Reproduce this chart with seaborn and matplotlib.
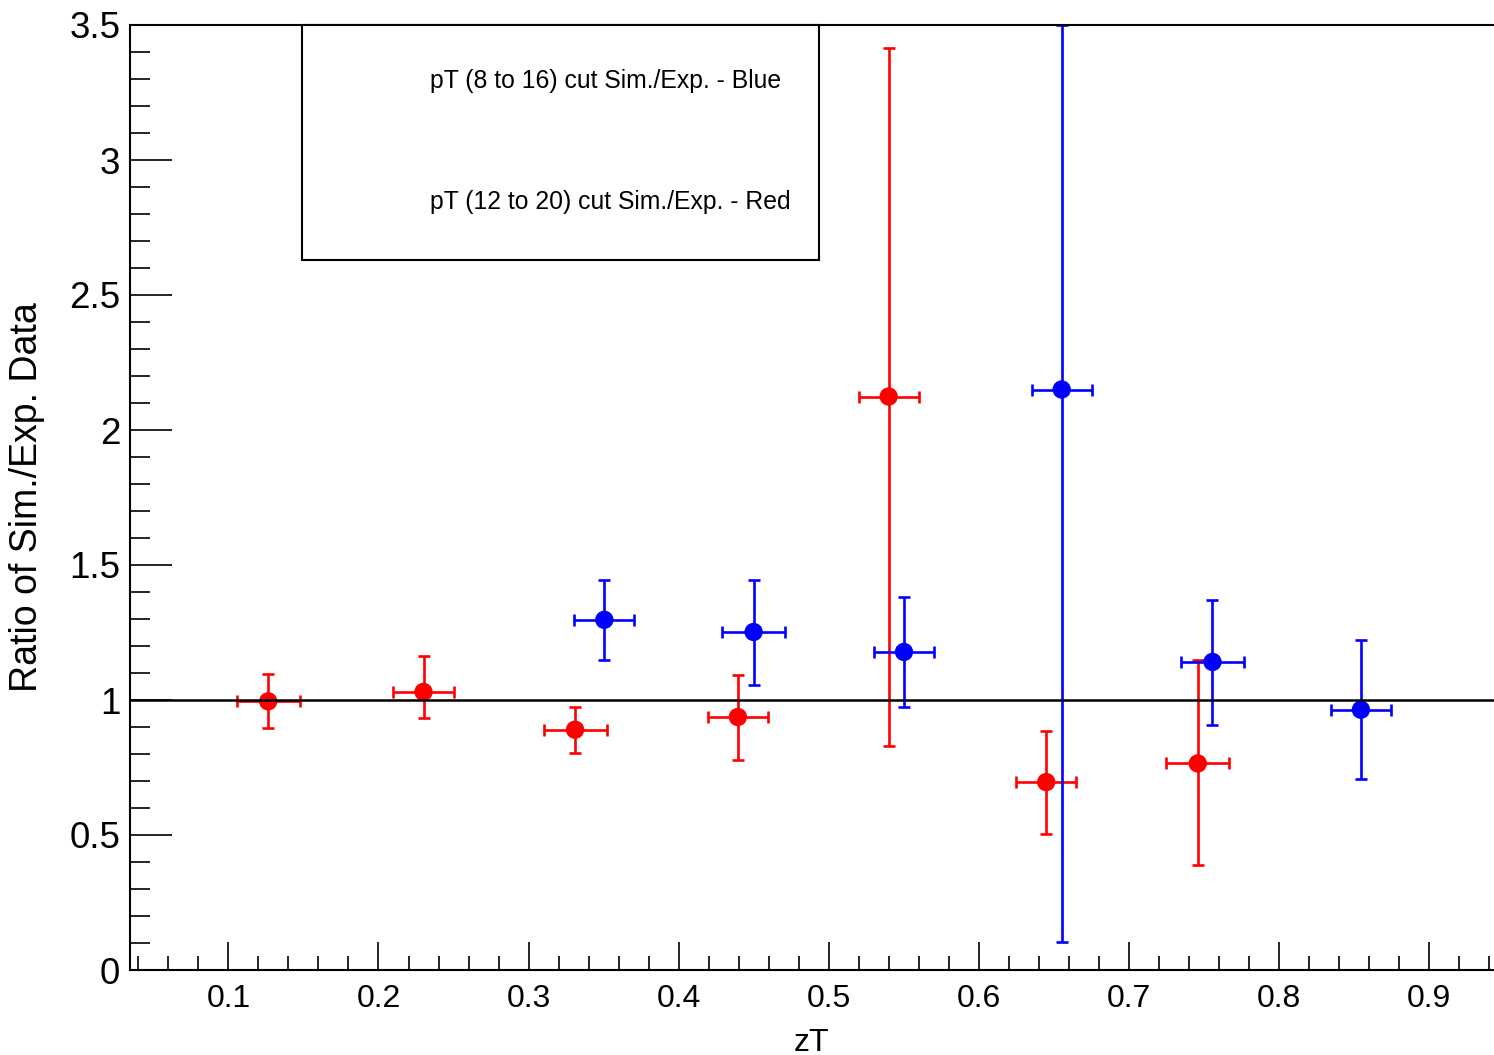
import matplotlib
matplotlib.use("Agg")
import matplotlib.pyplot as plt
import seaborn as sns
import pandas as pd
from matplotlib.patches import Rectangle
from matplotlib.ticker import MultipleLocator

# ---- data ----
red_x = [0.1265, 0.230, 0.331, 0.4395, 0.540, 0.645, 0.746]
red_y = [0.995, 1.030, 0.890, 0.937, 2.124, 0.696, 0.765]
red_lo = [0.097, 0.095, 0.085, 0.160, 1.295, 0.193, 0.377]
red_hi = [0.100, 0.132, 0.084, 0.157, 1.290, 0.188, 0.384]
red_xerr = [0.021, 0.020, 0.021, 0.020, 0.020, 0.020, 0.021]

blue_x = [0.3505, 0.4500, 0.5502, 0.6553, 0.7558, 0.8547]
blue_y = [1.297, 1.252, 1.178, 2.150, 1.141, 0.964]
blue_lo = [0.148, 0.195, 0.204, 2.047, 0.232, 0.258]
blue_hi = [0.148, 0.193, 0.203, 1.350, 0.230, 0.259]
blue_xerr = [0.020, 0.021, 0.020, 0.020, 0.021, 0.020]

legend_texts = ["pT (8 to 16) cut Sim./Exp. - Blue",
                "pT (12 to 20) cut Sim./Exp. - Red"]
x_label = "zT"
y_label = "Ratio of Sim./Exp. Data"

sns.set_theme(style="ticks")
plt.rcParams['font.family'] = ['Liberation Sans', 'DejaVu Sans']

fig = plt.figure(figsize=(14.94, 10.55), dpi=100)
ax = fig.add_axes([130 / 1494, 1 - 970 / 1055, (1494 - 130) / 1494, (970 - 25) / 1055])

df = pd.concat([
    pd.DataFrame({"x": red_x, "y": red_y, "series": "red"}),
    pd.DataFrame({"x": blue_x, "y": blue_y, "series": "blue"}),
])

for xs, ys, lo, hi, xe, col in [(red_x, red_y, red_lo, red_hi, red_xerr, "#ff0000"),
                                (blue_x, blue_y, blue_lo, blue_hi, blue_xerr, "#0000ff")]:
    ax.errorbar(xs, ys, yerr=[lo, hi], xerr=xe, fmt="none", ecolor=col,
                elinewidth=1.9, capsize=4.5, capthick=1.9, zorder=2)

sns.scatterplot(data=df, x="x", y="y", hue="series",
                palette={"red": "#ff0000", "blue": "#0000ff"},
                marker="o", s=175, linewidth=0, legend=False, ax=ax, zorder=3)

ax.axhline(1.0, color="black", lw=1.8, zorder=4)

ax.set_xlim(0.0344, 0.9434)
ax.set_ylim(0, 3.5)
ax.xaxis.set_major_locator(MultipleLocator(0.1))
ax.xaxis.set_minor_locator(MultipleLocator(0.02))
ax.yaxis.set_major_locator(MultipleLocator(0.5))
ax.yaxis.set_minor_locator(MultipleLocator(0.1))
ax.set_xticks([0.1, 0.2, 0.3, 0.4, 0.5, 0.6, 0.7, 0.8, 0.9])
ax.set_xticklabels(["0.1", "0.2", "0.3", "0.4", "0.5", "0.6", "0.7", "0.8", "0.9"])
ax.set_yticks([0, 0.5, 1, 1.5, 2, 2.5, 3, 3.5])
ax.set_yticklabels(["0", "0.5", "1", "1.5", "2", "2.5", "3", "3.5"])

ax.tick_params(axis="x", which="major", direction="in", length=20, width=1.2,
               labelsize=23, pad=10, color="black", labelcolor="black")
ax.tick_params(axis="x", which="minor", direction="in", length=10, width=1.2, color="black")
ax.tick_params(axis="y", which="major", direction="in", length=30, width=1.2,
               labelsize=26.5, pad=7, color="black", labelcolor="black")
ax.tick_params(axis="y", which="minor", direction="in", length=14.5, width=1.2, color="black")

for side in ["left", "bottom", "top"]:
    ax.spines[side].set_color("black")
    ax.spines[side].set_linewidth(1.5)
ax.spines["right"].set_visible(False)

ax.set_xlabel(x_label, fontsize=23, color="black", labelpad=10)
ax.set_ylabel(y_label, fontsize=27, color="black")
ax.yaxis.set_label_coords(-0.062, 0.5)

# legend box
x0 = (302 - 130) / 1364
x1 = (819 - 130) / 1364
y0 = (970 - 260) / 945
ax.add_patch(Rectangle((x0, y0), x1 - x0, 1 - y0, transform=ax.transAxes,
                       fill=True, facecolor="white", edgecolor="black", lw=1.5,
                       zorder=5, clip_on=False))
tx = (430 - 130) / 1364
for txt, py in zip(legend_texts, [81, 202]):
    ax.text(tx, (970 - py) / 945, txt, transform=ax.transAxes, fontsize=17.8,
            ha="left", va="center", color="black", zorder=6)

fig.savefig("out.png", dpi=100)
